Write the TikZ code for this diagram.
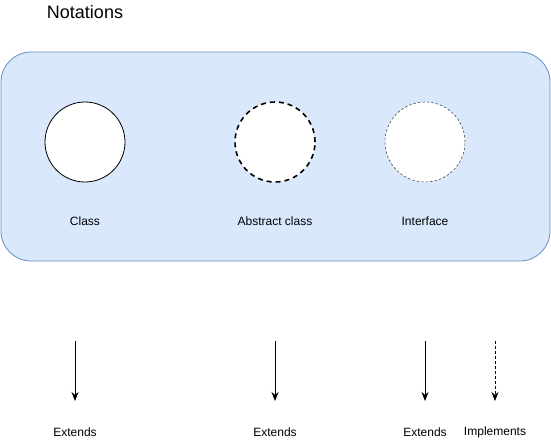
\documentclass[tikz,border=0pt]{standalone}
\usepackage{fontspec}
\setmainfont{Liberation Sans}
\usetikzlibrary{arrows.meta}

\definecolor{boxfill}{HTML}{DAE8FC}
\definecolor{boxline}{HTML}{6C8EBF}

\begin{document}
\begin{tikzpicture}[x=1pt,y=-1pt,
  notation/.style={circle,draw=black,fill=white,minimum size=80pt,inner sep=0pt},
  lbl/.style={font=\fontsize{12}{14}\selectfont,inner sep=0pt},
  rel/.style={-{Stealth[length=9pt,width=7pt]},line width=0.8pt}]
\useasboundingbox (0,0) rectangle (551,442);

% Title and background panel.
\node [font=\fontsize{18}{21}\selectfont,inner sep=0pt] (title) at (85,12) {Notations};
\draw[fill=boxfill,draw=boxline,line width=0.8pt,rounded corners=30pt] (1,52) rectangle (550,261);

% Draw circles, one per notation.
\node [notation,line width=0.8pt] (class) at (85,142) {};
\node [notation,line width=1.6pt,dash pattern=on 5pt off 4pt] (abstract) at (275,142) {};
\node [notation,draw=black!70,line width=0.6pt,dash pattern=on 2.5pt off 2pt] (iface) at (425,142) {};

\node [lbl] (classlbl) at (85,221) {Class};
\node [lbl] (abstractlbl) at (275,221) {Abstract class};
\node [lbl] (ifacelbl) at (425,221) {Interface};

% Draw relation arrows.
\coordinate (e1top) at (75,341);   \coordinate (e1end) at (75,401);
\coordinate (e2top) at (275,341);  \coordinate (e2end) at (275,401);
\coordinate (e3top) at (425,341);  \coordinate (e3end) at (425,401);
\coordinate (imtop) at (495,341);  \coordinate (imend) at (495,401);

\draw[rel] (e1top) -- (e1end);
\draw[rel] (e2top) -- (e2end);
\draw[rel] (e3top) -- (e3end);
\draw[rel,dashed,dash pattern=on 3pt off 2pt] (imtop) -- (imend);

\node [lbl] (ext1) at (75,432) {Extends};
\node [lbl] (ext2) at (275,432) {Extends};
\node [lbl] (ext3) at (425,432) {Extends};
\node [lbl] (impl) at (495,432) {Implements};
\end{tikzpicture}
\end{document}
